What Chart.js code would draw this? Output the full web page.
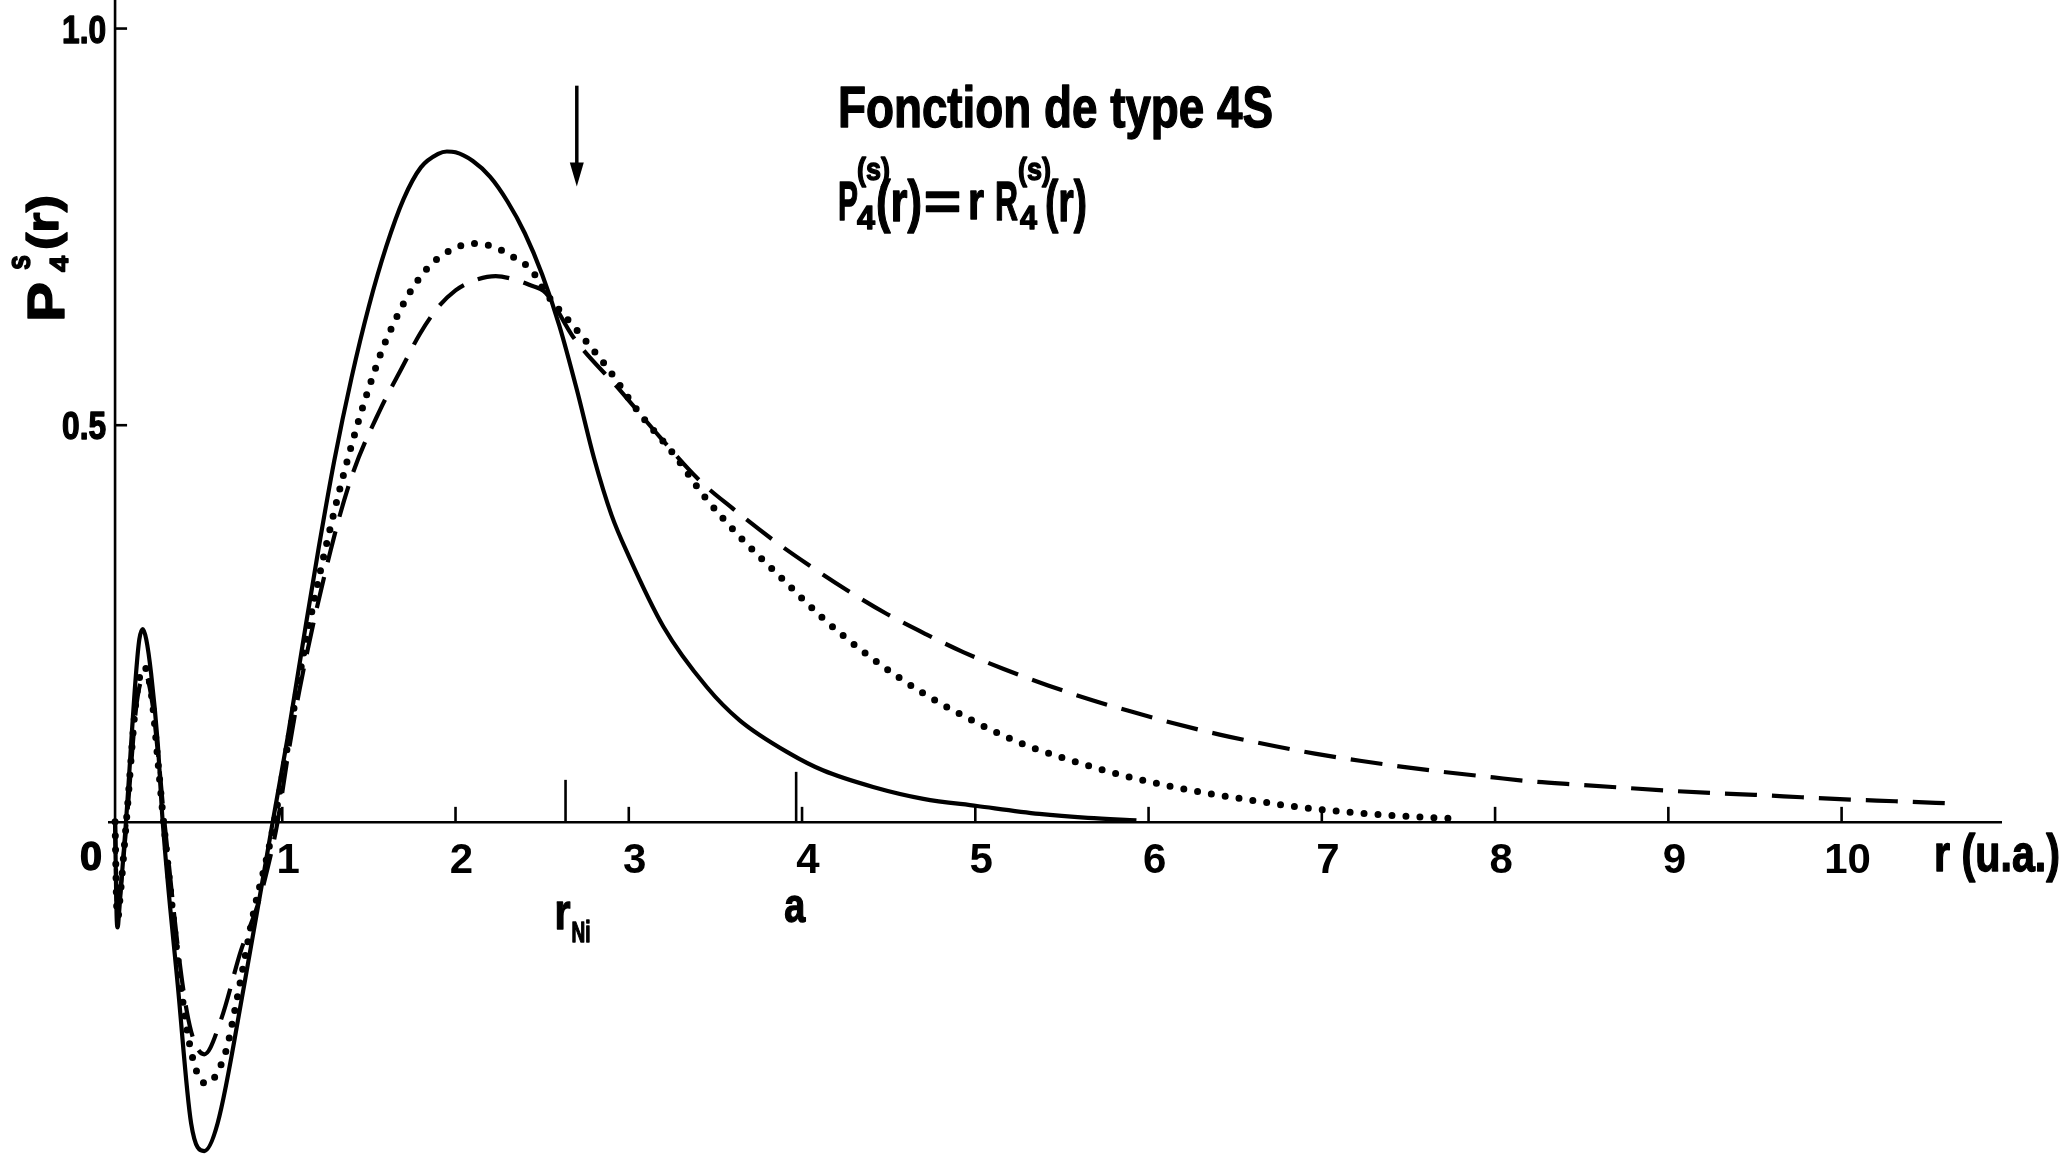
<!DOCTYPE html>
<html>
<head>
<meta charset="utf-8">
<script src="https://cdn.jsdelivr.net/npm/chart.js@4.4.0/dist/chart.umd.min.js"></script>
<style>
html,body{margin:0;padding:0;background:#fff;}
</style>
</head>
<body>
<canvas id="myChart" width="2067" height="1159"></canvas>
<script>
// r (u.a.) and P4s(r), one pair of arrays per curve
const solidR=[0.035,0.045,0.05,0.058,0.098,0.156,0.175,0.195,0.215,0.243,0.281,0.31,0.397,0.474,0.55,0.627,0.78,0.945,1.03,1.13,1.21,1.30,1.40,1.50,1.60,1.70,1.80,1.90,1.95,2.0,2.1,2.2,2.3,2.4,2.5,2.6,2.7,2.8,2.9,3.0,3.20,3.45,3.64,3.93,4.12,4.41,4.70,5.01,5.37,5.65,5.93];
const solidP=[0,-0.125,-0.133,-0.115,0,0.187,0.23,0.243,0.23,0.187,0.10,0,-0.206,-0.38,-0.415,-0.38,-0.206,0,0.105,0.24,0.345,0.455,0.56,0.65,0.725,0.785,0.825,0.842,0.845,0.844,0.833,0.813,0.782,0.742,0.69,0.625,0.545,0.458,0.387,0.335,0.246,0.170,0.128,0.086,0.065,0.044,0.029,0.020,0.010,0.005,0.002];

const dottedR=[0.035,0.045,0.052,0.062,0.10,0.16,0.205,0.245,0.285,0.315,0.454,0.56,0.675,0.724,0.762,0.839,0.916,0.954,1.03,1.13,1.25,1.40,1.563,1.64,1.73,1.846,1.975,2.10,2.22,2.31,2.44,2.52,2.70,2.874,3.066,3.258,3.43,3.643,3.874,4.124,4.393,4.70,4.99,5.16,5.31,5.46,5.68,5.90,6.12,6.34,6.60,6.85,7.11,7.40,7.78];
const dottedP=[0,-0.11,-0.12,-0.10,0,0.16,0.195,0.16,0.07,0,-0.267,-0.33,-0.289,-0.24,-0.197,-0.11,-0.04,0,0.095,0.22,0.345,0.475,0.587,0.627,0.665,0.700,0.721,0.729,0.725,0.715,0.695,0.667,0.620,0.573,0.514,0.464,0.412,0.359,0.309,0.256,0.208,0.162,0.127,0.109,0.095,0.084,0.069,0.056,0.045,0.036,0.027,0.019,0.013,0.008,0.004];

const dashedR=[0.035,0.045,0.053,0.064,0.102,0.16,0.21,0.25,0.29,0.32,0.45,0.55,0.647,0.762,0.858,0.916,0.973,1.03,1.10,1.28,1.40,1.566,1.69,1.794,1.897,2.0,2.103,2.232,2.335,2.425,2.52,2.68,2.95,3.18,3.41,3.60,3.835,4.03,4.26,4.49,4.72,4.93,5.16,5.42,5.68,5.90,6.15,6.41,6.74,6.96,7.22,7.48,7.70,7.99,8.21,8.47,8.74,9.02,9.28,9.50,9.77,10.05,10.31,10.65];
const dashedP=[0,-0.10,-0.11,-0.09,0,0.15,0.185,0.15,0.07,0,-0.24,-0.293,-0.249,-0.162,-0.105,-0.058,0,0.08,0.167,0.343,0.435,0.52,0.572,0.615,0.648,0.670,0.682,0.688,0.684,0.677,0.667,0.611,0.544,0.485,0.430,0.395,0.355,0.325,0.292,0.262,0.236,0.214,0.193,0.172,0.153,0.139,0.124,0.110,0.095,0.086,0.077,0.069,0.063,0.056,0.051,0.047,0.043,0.039,0.036,0.034,0.031,0.028,0.026,0.023];

const xTicks=[1,2,3,4,5,6,7,8,9,10];
const yTicks=[0.5,1.0];
const yAxisAt=0.035;   // where the vertical axis stands
const rNi=2.635;       // marked radius r_Ni
const aLat=3.966;      // marked lattice value a
const arrowR=2.70;     // the arrow above the curves

const FONT='"Liberation Sans", Arial, sans-serif';

function pts(xs,ys){ return xs.map((x,i)=>({x:x,y:ys[i]})); }

// bold text pressed to a given width, with a thin stroke to make it heavier
function squeeze(ctx,txt,x,y,size,w,align){
  ctx.save();
  ctx.font='bold '+size+'px '+FONT;
  const nat=ctx.measureText(txt).width;
  const k=w?w/nat:1;
  ctx.translate(x,y);
  ctx.scale(k,1);
  ctx.textAlign=align||'left';
  ctx.textBaseline='alphabetic';
  ctx.lineWidth=1.4;
  ctx.lineJoin='round';
  ctx.fillText(txt,0,0);
  ctx.strokeText(txt,0,0);
  ctx.restore();
}

const extras={
  id:'extras',
  afterDraw(chart){
    const ctx=chart.ctx, xs=chart.scales.x, ys=chart.scales.y;
    const x0=xs.getPixelForValue(yAxisAt), y0=ys.getPixelForValue(0);
    ctx.save();
    ctx.strokeStyle='#000'; ctx.fillStyle='#000';
    ctx.lineCap='butt';

    // vertical axis, only above zero
    ctx.lineWidth=2.6;
    ctx.beginPath(); ctx.moveTo(x0,0); ctx.lineTo(x0,y0); ctx.stroke();
    yTicks.forEach(v=>{
      const p=ys.getPixelForValue(v);
      ctx.lineWidth=2.6;
      ctx.beginPath(); ctx.moveTo(x0,p); ctx.lineTo(x0+12,p); ctx.stroke();
      squeeze(ctx,v.toFixed(1),x0-9,p+14,39,44,'right');
    });
    squeeze(ctx,'0',x0-24,y0+48,40,22,'center');

    // tick marks point up from the r axis
    ctx.lineWidth=2.6;
    xTicks.forEach(v=>{
      const p=xs.getPixelForValue(v);
      ctx.beginPath(); ctx.moveTo(p,y0); ctx.lineTo(p,y0-15); ctx.stroke();
    });
    [[rNi,42],[aLat,50]].forEach(m=>{
      const p=xs.getPixelForValue(m[0]);
      ctx.beginPath(); ctx.moveTo(p,y0); ctx.lineTo(p,y0-m[1]); ctx.stroke();
    });
    const pn=xs.getPixelForValue(rNi), pa=xs.getPixelForValue(aLat);
    squeeze(ctx,'r',pn-11,y0+107,50,16);
    squeeze(ctx,'Ni',pn+6,y0+120,30,19);
    squeeze(ctx,'a',pa-12,y0+100,48,21);
    squeeze(ctx,'r (u.a.)',1934,y0+49,52,126);

    // arrow
    const ax=xs.getPixelForValue(arrowR), at=ys.getPixelForValue(0.928), ab=ys.getPixelForValue(0.801);
    ctx.lineWidth=3.5;
    ctx.beginPath(); ctx.moveTo(ax,at); ctx.lineTo(ax,ab-12); ctx.stroke();
    ctx.beginPath(); ctx.moveTo(ax-7,ab-24); ctx.lineTo(ax+7,ab-24); ctx.lineTo(ax,ab); ctx.closePath(); ctx.fill();

    // title and formula
    squeeze(ctx,'Fonction de type 4S',838,127,57,435);
    squeeze(ctx,'P',838,220,56,20);
    squeeze(ctx,'(s)',857,180,32,33);
    squeeze(ctx,'4',857,229,34,18);
    squeeze(ctx,'(r)',876,221,58,46);
    squeeze(ctx,'=',924,219,52,37);
    squeeze(ctx,'r',968,219,54,16);
    squeeze(ctx,'R',995,220,56,23);
    squeeze(ctx,'(s)',1018,180,32,33);
    squeeze(ctx,'4',1020,229,34,17);
    squeeze(ctx,'(r)',1045,221,58,42);

    // rotated axis name
    ctx.save();
    ctx.translate(64,322); ctx.rotate(-Math.PI/2);
    squeeze(ctx,'P',0,0,52,40);
    squeeze(ctx,'s',52,-34,34,15);
    squeeze(ctx,'4',50,4,26,16);
    squeeze(ctx,'(r)',72,-6,45,55);
    ctx.restore();

    ctx.restore();
  }
};

const ctx=document.getElementById('myChart').getContext('2d');
const myChart=new Chart(ctx,{
  type:'line',
  data:{
    datasets:[
      {label:'solid',data:pts(solidR,solidP),borderColor:'#000',borderWidth:4.2,pointRadius:0,cubicInterpolationMode:'monotone',fill:false},
      {label:'dotted',data:pts(dottedR,dottedP),borderColor:'#000',borderWidth:7,borderDash:[0,14],borderCapStyle:'round',pointRadius:0,cubicInterpolationMode:'monotone',fill:false},
      {label:'dashed',data:pts(dashedR,dashedP),borderColor:'#000',borderWidth:4.2,borderDash:[32,15],pointRadius:0,cubicInterpolationMode:'monotone',fill:false}
    ]
  },
  options:{
    responsive:false,
    maintainAspectRatio:false,
    devicePixelRatio:1,
    animation:false,
    layout:{padding:{left:109,right:66,top:0,bottom:0}},
    plugins:{legend:{display:false},tooltip:{enabled:false}},
    scales:{
      x:{
        type:'linear',
        min:0,max:10.92,
        position:{y:0},
        grid:{display:false},
        border:{display:true,color:'#000',width:2.6},
        afterBuildTicks:s=>{ s.ticks=xTicks.map(v=>({value:v})); },
        ticks:{
          autoSkip:false,maxRotation:0,padding:6,labelOffset:6,color:'#000',
          font:{family:FONT,size:42,weight:'bold',lineHeight:1.2},
          callback:v=>String(v)
        }
      },
      y:{
        type:'linear',
        min:-0.425,max:1.036,
        display:false
      }
    }
  },
  plugins:[extras]
});
</script>
</body>
</html>
